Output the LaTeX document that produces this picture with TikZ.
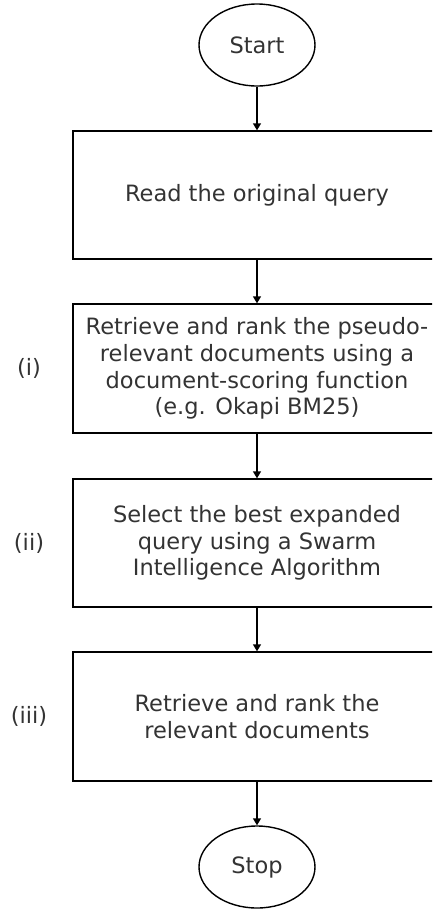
\documentclass[tikz,border=0pt]{standalone}
\usepackage{fontspec}
\setmainfont{DejaVu Sans}
\usetikzlibrary{arrows.meta,shapes.geometric}
\definecolor{txt}{HTML}{333333}
\begin{document}
\begin{tikzpicture}[x=1pt,y=-1pt,
  every node/.style={font=\fontsize{22.5}{26.7}\selectfont, text=txt, align=center},
  stepbox/.style={draw=black, line width=1.4pt, rectangle, minimum width=368pt, inner sep=0pt},
  term/.style={draw=black, line width=1.4pt, ellipse, minimum width=116pt, minimum height=82pt, inner sep=0pt},
  arr/.style={line width=1.4pt, -{Triangle[length=7pt,width=8pt]}},
  lab/.style={}]
\useasboundingbox (0,0) rectangle (432,911);
\begin{scope}
\clip (0,0) rectangle (432,911);
\node[term] (start) at (257,45) {Start};
\node[stepbox, minimum height=128pt] (b1) at (257,195) {Read the original query};
\node[stepbox, minimum height=129pt] (b2) at (257,368.5) {Retrieve and rank the pseudo-\\relevant documents using a\\document-scoring function\\(e.g. Okapi BM25)};
\node[stepbox, minimum height=128pt] (b3) at (257,543) {Select the best expanded\\query using a Swarm\\Intelligence Algorithm};
\node[stepbox, minimum height=129pt] (b4) at (257,716.5) {Retrieve and rank the\\relevant documents};
\node[term] (stop) at (257,867) {Stop};
\node[lab] (l1) at (29,368.5) {(i)};
\node[lab] (l2) at (29,543) {(ii)};
\node[lab] (l3) at (29,716.5) {(iii)};
\draw[arr] (start) -- (b1);
\draw[arr] (b1) -- (b2);
\draw[arr] (b2) -- (b3);
\draw[arr] (b3) -- (b4);
\draw[arr] (b4) -- (stop);
\end{scope}
\end{tikzpicture}
\end{document}
